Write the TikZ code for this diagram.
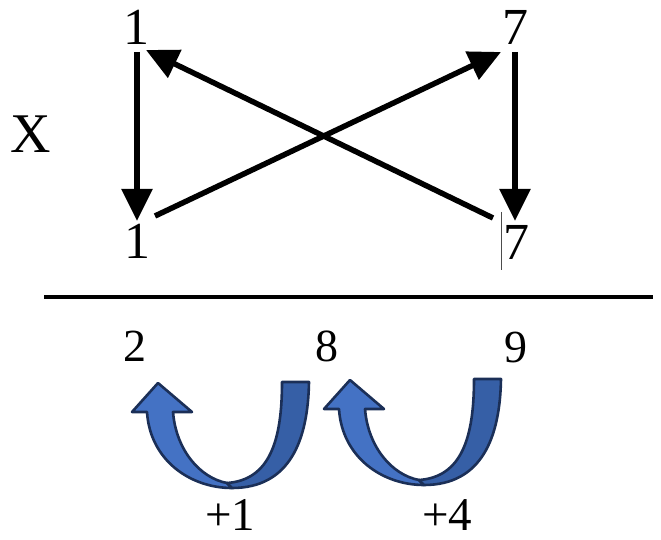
\documentclass[tikz,border=0pt]{standalone}
\usepackage{fontspec}
\setmainfont{Liberation Serif}
\usetikzlibrary{arrows.meta}
\definecolor{lightblue}{HTML}{4472C4}
\definecolor{darkblue}{HTML}{365FA6}
\definecolor{navy}{HTML}{1B2F57}
\tikzset{
  big/.style={inner sep=0pt, anchor=base, font=\fontsize{52}{60}\selectfont},
  small/.style={inner sep=0pt, anchor=base, font=\fontsize{46}{54}\selectfont},
  plus/.style={inner sep=0pt, anchor=base, text depth=0pt, font=\fontsize{47}{54}\selectfont},
  arr/.style={line width=5.5pt, -{Triangle[length=32pt,width=30pt]}},
  rib/.style={draw=navy, line width=2.6pt, line join=round},
  uarrow/.pic={
    \filldraw[rib, fill=lightblue] (147,412) .. controls (150,460) and (190,488) .. (232,488)
      -- (227,483) .. controls (200,478) and (176,450) .. (173,412)
      -- (192,412) -- (158,383) -- (132,412) -- cycle;
    \filldraw[rib, fill=darkblue] (309,382) -- (282,382) .. controls (282,440) and (270,480) .. (227,483)
      -- (232,488) .. controls (290,488) and (308,440) .. (309,382) -- cycle;
  }
}
\begin{document}
\begin{tikzpicture}[x=1pt,y=-1pt]
\useasboundingbox (0,0) rectangle (661,540);
% texts
\node[big, font=\fontsize{56}{64}\selectfont] (x) at (31,153) {X};
\node[big] (t1) at (136,45) {1};
\node[big] (t7) at (515,45) {7};
\node[big] (b1) at (137,258) {1};
\node[big] (b7) at (516,259) {7};
\node[small] (n2) at (135,361) {2};
\node[small] (n8) at (327,361) {8};
\node[small] (n9) at (516,362) {9};
\node[plus] (p1) at (230,530) {+1};
\node[plus] (p4) at (447,530) {+4};
% arrow end points
\coordinate (v1s) at (137,52);
\coordinate (v1e) at (137,221);
\coordinate (v2s) at (515,52);
\coordinate (v2e) at (515,221);
\coordinate (d1s) at (155,216);
\coordinate (d1e) at (501,52);
\coordinate (d2s) at (493,218);
\coordinate (d2e) at (146,50);
\draw[arr] (v1s) -- (v1e);
\draw[arr] (v2s) -- (v2e);
\draw[arr] (d1s) -- (d1e);
\draw[arr] (d2s) -- (d2e);
% cursor bar
\coordinate (c1) at (501,212);
\coordinate (c2) at (501,270);
\draw[line width=1pt, black!70] (c1) -- (c2);
% rule
\coordinate (h1) at (44,297);
\coordinate (h2) at (653,297);
\draw[line width=4pt] (h1) -- (h2);
% curved arrows
\pic at (0,0) {uarrow};
\pic at (192,-3) {uarrow};
\end{tikzpicture}
\end{document}
